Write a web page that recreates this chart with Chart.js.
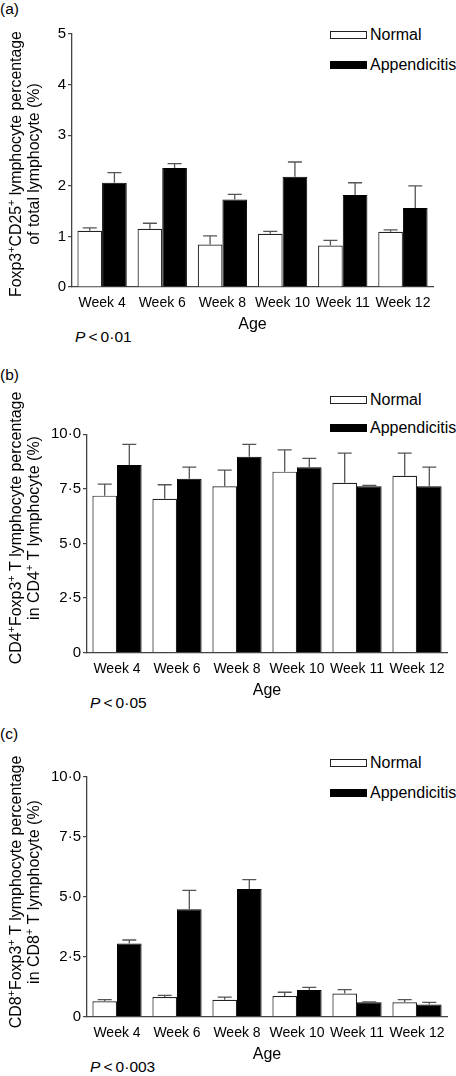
<!DOCTYPE html>
<html><head><meta charset="utf-8">
<script src="https://cdn.jsdelivr.net/npm/chart.js@4.4.1/dist/chart.umd.min.js"></script>
<style>
html,body{margin:0;padding:0;background:#fff;}
body{width:456px;height:1076px;position:relative;overflow:hidden;font-family:'Liberation Sans',Arial,Helvetica,sans-serif;color:#000;}
canvas{position:absolute;left:0;}
.lbl{position:absolute;font-size:15.5px;line-height:16px;white-space:nowrap;}
.leg{position:absolute;left:330px;height:18px;display:flex;align-items:center;font-size:16px;white-space:nowrap;}
.leg .box{width:37px;height:8px;box-sizing:border-box;margin-right:3px;flex:none;}
.wbox{background:#fff;border:1px solid #222;}
.bbox{background:#000;}
</style>
</head><body>

<div class="lbl" style="left:0;top:1px">(a)</div>
<div class="lbl" style="left:0;top:367px">(b)</div>
<div class="lbl" style="left:0;top:726px">(c)</div>

<div class="leg" style="top:26px"><span class="box wbox"></span>Normal</div>
<div class="leg" style="top:56px"><span class="box bbox"></span>Appendicitis</div>
<div class="leg" style="top:391px"><span class="box wbox"></span>Normal</div>
<div class="leg" style="top:419px"><span class="box bbox"></span>Appendicitis</div>
<div class="leg" style="top:754px"><span class="box wbox"></span>Normal</div>
<div class="leg" style="top:784px"><span class="box bbox"></span>Appendicitis</div>

<div class="lbl" style="left:75px;top:329px"><i>P</i>&thinsp;&lt;&thinsp;0·01</div>
<div class="lbl" style="left:90px;top:695px"><i>P</i>&thinsp;&lt;&thinsp;0·05</div>
<div class="lbl" style="left:90px;top:1059px"><i>P</i>&thinsp;&lt;&thinsp;0·003</div>

<canvas id="ca" width="456" height="350" style="top:0;width:456px;height:350px"></canvas>
<canvas id="cb" width="456" height="362" style="top:350px;width:456px;height:362px"></canvas>
<canvas id="cc" width="456" height="364" style="top:712px;width:456px;height:364px"></canvas>

<script>
// ---- data ----
const categories = ['Week 4', 'Week 6', 'Week 8', 'Week 10', 'Week 11', 'Week 12'];
const seriesNames = ['Normal', 'Appendicitis'];

// (a) Foxp3+CD25+ % of total lymphocytes
const normalA = [1.11, 1.15, 0.84, 1.05, 0.82, 1.09];
const normalAErr = [0.06, 0.11, 0.17, 0.05, 0.10, 0.04];
const appendA = [2.06, 2.35, 1.73, 2.18, 1.82, 1.56];
const appendAErr = [0.20, 0.09, 0.10, 0.29, 0.24, 0.44];
const yTicksA = ['0', '1', '2', '3', '4', '5'];
const yTitleA = ['Foxp3^+CD25^+ lymphocyte percentage', 'of total lymphocyte (%)'];

// (b) CD4+Foxp3+ % in CD4+ T lymphocytes
const normalB = [7.19, 7.05, 7.62, 8.29, 7.78, 8.10];
const normalBErr = [0.53, 0.64, 0.74, 1.00, 1.36, 1.04];
const appendB = [8.59, 7.97, 8.97, 8.49, 7.62, 7.62];
const appendBErr = [0.95, 0.53, 0.57, 0.41, 0.04, 0.88];
const yTicksB = ['0', '2·5', '5·0', '7·5', '10·0'];
const yTitleB = ['CD4^+Foxp3^+ T lymphocyte percentage', 'in CD4^+ T lymphocyte (%)'];

// (c) CD8+Foxp3+ % in CD8+ T lymphocytes
const normalC = [0.64, 0.82, 0.71, 0.86, 0.97, 0.60];
const normalCErr = [0.07, 0.07, 0.11, 0.16, 0.16, 0.11];
const appendC = [3.05, 4.48, 5.33, 1.11, 0.60, 0.51];
const appendCErr = [0.15, 0.79, 0.39, 0.11, 0.02, 0.09];
const yTicksC = ['0', '2·5', '5·0', '7·5', '10·0'];
const yTitleC = ['CD8^+Foxp3^+ T lymphocyte percentage', 'in CD8^+ T lymphocyte (%)'];

// ---- rendering ----
const FONT = "'Liberation Sans', Arial, Helvetica, sans-serif";
const AXIS = '#444';

const errorBars = {
  id: 'errorBars',
  afterDatasetsDraw(chart) {
    const ctx = chart.ctx, y = chart.scales.y;
    chart.data.datasets.forEach((ds, i) => {
      const meta = chart.getDatasetMeta(i);
      meta.data.forEach((bar, j) => {
        const top = y.getPixelForValue(ds.data[j] + ds.errValues[j]);
        ctx.save();
        ctx.strokeStyle = '#555';
        ctx.lineWidth = 1.3;
        ctx.beginPath();
        ctx.moveTo(bar.x, bar.y);
        ctx.lineTo(bar.x, top);
        ctx.moveTo(bar.x - 7, top);
        ctx.lineTo(bar.x + 7, top);
        ctx.stroke();
        ctx.restore();
      });
    });
  }
};

// rotated two-line y-axis title with superscripts ("^+" marks a superscript plus)
function parseSegs(line) {
  return line.split(/(\^\+)/).filter(s => s.length)
    .map(s => s === '^+' ? { t: '+', sup: true } : { t: s, sup: false });
}
const sideTitle = {
  id: 'sideTitle',
  afterDraw(chart, args, opts) {
    const ctx = chart.ctx;
    const lines = opts.lines.map(parseSegs);
    const measure = (segs, size) => {
      let w = 0;
      segs.forEach(s => { ctx.font = (s.sup ? size * 0.68 : size) + 'px ' + FONT; s.w = ctx.measureText(s.t).width; w += s.w; });
      return w;
    };
    // choose the size at which the first line spans the reference length
    const size = 16 * opts.span / measure(lines[0], 16);
    ctx.save();
    ctx.translate(opts.cx, opts.cy);
    ctx.rotate(-Math.PI / 2);
    ctx.fillStyle = '#000';
    ctx.textBaseline = 'middle';
    ctx.textAlign = 'left';
    lines.forEach((segs, li) => {
      const w = measure(segs, size);
      let x = -w / 2;
      const y = (li - (lines.length - 1) / 2) * opts.lh;
      segs.forEach(s => {
        ctx.font = (s.sup ? size * 0.68 : size) + 'px ' + FONT;
        ctx.fillText(s.t, x, s.sup ? y - size * 0.33 : y);
        x += s.w;
      });
    });
    ctx.restore();
  }
};

function makeChart(id, normal, normalErr, append, appendErr, yMax, step, yTicks, yTitle, area, H, titleCy, titleSpan) {
  const xH = 47;
  const yW = area.left;
  new Chart(document.getElementById(id), {
    type: 'bar',
    data: {
      labels: categories,
      datasets: [
        { label: seriesNames[0], data: normal, errValues: normalErr,
          backgroundColor: '#fff', borderColor: '#222', borderWidth: 1.2 },
        { label: seriesNames[1], data: append, errValues: appendErr,
          backgroundColor: '#000', borderColor: '#000', borderWidth: 1 }
      ]
    },
    options: {
      responsive: false,
      devicePixelRatio: 1,
      animation: false,
      categoryPercentage: 0.82,
      barPercentage: 1.0,
      layout: { padding: { left: 0, right: 456 - area.right, top: area.top, bottom: H - area.bottom - xH } },
      plugins: {
        legend: { display: false }, tooltip: { enabled: false },
        sideTitle: { lines: yTitle, cx: 26, cy: titleCy, lh: 18, span: titleSpan }
      },
      scales: {
        x: {
          offset: true,
          grid: { display: false, drawTicks: false, tickLength: 0 },
          border: { display: true, color: AXIS, width: 1.3 },
          ticks: { color: '#000', font: { family: FONT, size: 14 }, padding: 8, maxRotation: 0, autoSkip: false },
          title: { display: true, text: 'Age', color: '#000', font: { family: FONT, size: 16 }, padding: 0 },
          afterFit(s) { s.height = xH; }
        },
        y: {
          min: 0, max: yMax,
          grid: { display: true, drawOnChartArea: false, drawTicks: true, tickLength: 4, color: AXIS, lineWidth: 1.2 },
          border: { display: true, color: AXIS, width: 1.3 },
          ticks: { stepSize: step, color: '#000', font: { family: FONT, size: 15 }, padding: 2,
                   callback: (v, i) => yTicks[i] },
          afterFit(s) { s.width = yW; }
        }
      }
    },
    plugins: [errorBars, sideTitle]
  });
}

makeChart('ca', normalA, normalAErr, appendA, appendAErr, 5, 1, yTicksA, yTitleA, { left: 72, right: 433, top: 34, bottom: 287 }, 350, 164, 266);
makeChart('cb', normalB, normalBErr, appendB, appendBErr, 10, 2.5, yTicksB, yTitleB, { left: 87, right: 447, top: 84.3, bottom: 302.7 }, 362, 178, 273);
makeChart('cc', normalC, normalCErr, appendC, appendCErr, 10, 2.5, yTicksC, yTitleC, { left: 87, right: 447, top: 65, bottom: 304.7 }, 364, 180, 273);
</script>
</body></html>
